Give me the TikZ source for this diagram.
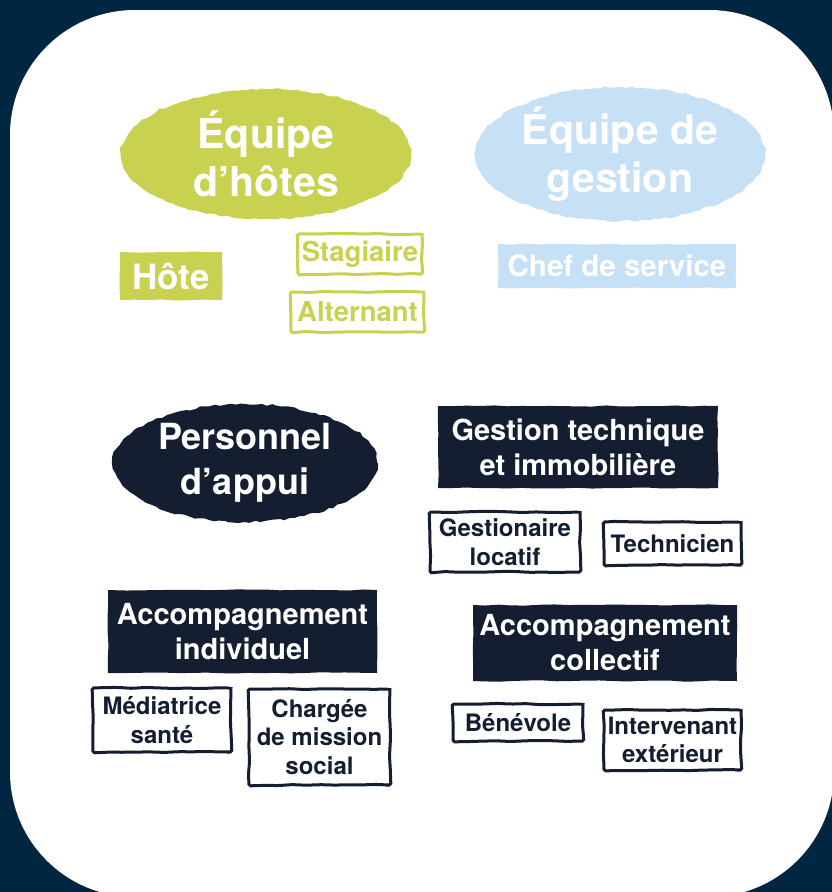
\documentclass[tikz,border=0pt]{standalone}
\usepackage{fontspec}
\setmainfont{TeX Gyre Heros}
\usetikzlibrary{shapes.geometric,decorations.pathmorphing}
\definecolor{framecol}{HTML}{012642}
\definecolor{hgreen}{HTML}{C8D150}
\definecolor{hblue}{HTML}{C6E0F5}
\definecolor{navy}{HTML}{141E30}
\tikzset{
  blob/.style={ellipse, text=white, align=center, inner sep=0pt,
    decorate, decoration={random steps, segment length=5pt, amplitude=1.2pt}},
  fillbox/.style={rectangle, text=white, align=center, inner sep=0pt,
    decorate, decoration={random steps, segment length=14pt, amplitude=0.6pt}},
  outbox/.style={rectangle, draw, line width=3pt, align=center, inner sep=0pt, fill=white,
    rounded corners=1.5pt,
    decorate, decoration={random steps, segment length=14pt, amplitude=0.6pt}},
  fblob/.style={font=\fontsize{41}{48}\selectfont\bfseries},
  fhead/.style={font=\fontsize{29}{35}\selectfont\bfseries},
  fsmall/.style={font=\fontsize{24}{28.5}\selectfont\bfseries},
}
\begin{document}
\begin{tikzpicture}[x=1pt,y=-1pt]
\useasboundingbox (0,0) rectangle (832,892);
\fill[framecol] (0,0) rectangle (832,892);
\begin{scope}
  \clip (0,0) rectangle (832,892);
  \fill[white, rounded corners=125pt] (10,10) rectangle (834,897);
\end{scope}

% Equipe d'hotes
\node[blob, fill=hgreen, fblob, minimum width=290pt, minimum height=130pt] (eh) at (266,154) {Équipe\\d’hôtes};
\node[fillbox, fill=hgreen, font=\fontsize{35}{40}\selectfont\bfseries, minimum width=102pt, minimum height=48pt] (hote) at (171,276) {Hôte};
\node[outbox, draw=hgreen, text=hgreen, font=\fontsize{27.5}{32}\selectfont\bfseries, minimum width=124pt, minimum height=40pt] (stag) at (360,254) {Stagiaire};
\node[outbox, draw=hgreen, text=hgreen, font=\fontsize{27.5}{32}\selectfont\bfseries, minimum width=133pt, minimum height=40pt] (alt) at (357.5,312) {Alternant};

% Equipe de gestion
\node[blob, fill=hblue, fblob, minimum width=290pt, minimum height=122pt] (eg) at (620,154) {Équipe de\\gestion};
\node[fillbox, fill=hblue, font=\fontsize{29.5}{35}\selectfont\bfseries, minimum width=238pt, minimum height=44pt] (chef) at (617,266) {Chef de service};

% Personnel d'appui
\node[blob, fill=navy, font=\fontsize{36}{45}\selectfont\bfseries, minimum width=265pt, minimum height=118pt] (pa) at (245,463) {Personnel\\d’appui};

% Gestion technique
\node[fillbox, fill=navy, fhead, minimum width=280pt, minimum height=82pt] (gt) at (578,447) {Gestion technique\\et immobilière};
\node[outbox, draw=navy, text=navy, fsmall, minimum width=150pt, minimum height=60pt] (gl) at (505,542) {Gestionaire\\locatif};
\node[outbox, draw=navy, text=navy, fsmall, minimum width=137pt, minimum height=43pt] (tech) at (672.5,543.5) {Technicien};

% Accompagnement individuel
\node[fillbox, fill=navy, fhead, minimum width=269pt, minimum height=83pt] (ai) at (242.5,631.5) {Accompagnement\\individuel};
\node[outbox, draw=navy, text=navy, fsmall, minimum width=138pt, minimum height=64pt] (med) at (162,720) {Médiatrice\\santé};
\node[outbox, draw=navy, text=navy, fsmall, minimum width=141pt, minimum height=96pt] (charg) at (319.5,737) {Chargée\\de mission\\social};

% Accompagnement collectif
\node[fillbox, fill=navy, fhead, minimum width=264pt, minimum height=76pt] (ac) at (605,643) {Accompagnement\\collectif};
\node[outbox, draw=navy, text=navy, fsmall, minimum width=130pt, minimum height=37pt] (ben) at (518,722.5) {Bénévole};
\node[outbox, draw=navy, text=navy, fsmall, minimum width=137pt, minimum height=60pt] (int) at (672.5,740) {Intervenant\\extérieur};
\end{tikzpicture}
\end{document}
